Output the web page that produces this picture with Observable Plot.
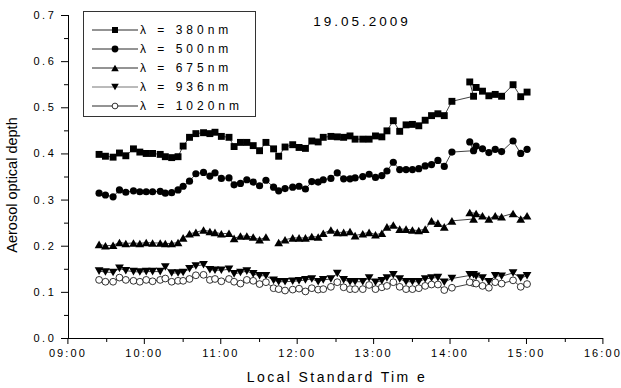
<!DOCTYPE html>
<html>
<head>
<meta charset="utf-8">
<script src="https://cdn.jsdelivr.net/npm/d3@7"></script>
<script src="https://cdn.jsdelivr.net/npm/@observablehq/plot@0.6"></script>
<style>
  body { margin: 0; background: #fff; }
  #wrap { position: relative; width: 621px; height: 388px; font-family: "Liberation Sans", Arial, sans-serif; color: #000; overflow: hidden; }
  #chart svg { display: block; }
  g[aria-label="y-axis tick label"] text { letter-spacing: 2.6px; }
  g[aria-label="x-axis tick label"] text { letter-spacing: 2.1px; }
  .ov { position: absolute; white-space: nowrap; transform: translate(-50%, -50%); line-height: 1; }
  #title { left: 362px; top: 22px; font-size: 13.5px; letter-spacing: 3px; }
  #xlab { left: 337px; top: 377px; font-size: 14px; letter-spacing: 2.4px; }
  #ylab { left: 12px; top: 185px; font-size: 14.5px; transform: translate(-50%, -50%) rotate(-90deg); }
  #legend { position: absolute; left: 83px; top: 11px; }
</style>
</head>
<body>
<div id="wrap">
  <div id="chart"></div>
  <div id="title" class="ov">19.05.2009</div>
  <div id="xlab" class="ov">Local Standard Tim e</div>
  <div id="ylab" class="ov">Aerosol optical depth</div>
  <div id="legend"></div>
</div>
<script>
// ---- data ----
const times = ["09:24","09:29","09:35","09:40","09:45","09:51","09:56","10:01","10:06","10:12","10:16","10:21","10:26","10:30","10:35","10:40","10:46","10:51","10:55","11:00",
  "11:06","11:10","11:15","11:20","11:25","11:30","11:35","11:41","11:45","11:50","11:56","12:01","12:06","12:11","12:16",
  "12:20","12:26","12:31","12:36","12:41","12:45","12:51","12:56","13:01","13:06","13:10","13:15","13:20","13:25","13:30","13:35","13:40","13:45","13:50","13:55","14:01",
  "14:18","14:15","14:20","14:25","14:30","14:35","14:40","14:49","14:55","15:00"];

const aod380 = [0.399,0.395,0.393,0.402,0.396,0.411,0.404,0.401,0.401,0.399,0.394,0.392,0.394,0.417,0.436,0.444,0.446,0.444,0.447,0.438,
  0.436,0.416,0.425,0.425,0.418,0.407,0.425,0.411,0.395,0.415,0.420,0.414,0.412,0.428,0.426,
  0.436,0.438,0.437,0.436,0.439,0.432,0.432,0.432,0.439,0.437,0.450,0.472,0.449,0.463,0.464,0.461,0.473,0.483,0.487,0.483,0.514,
  0.525,0.556,0.544,0.536,0.526,0.529,0.525,0.550,0.524,0.534];

const aod500 = [0.315,0.311,0.307,0.322,0.317,0.320,0.318,0.318,0.318,0.319,0.315,0.316,0.322,0.330,0.341,0.357,0.360,0.352,0.359,0.347,
  0.348,0.333,0.336,0.344,0.339,0.331,0.343,0.328,0.320,0.325,0.328,0.330,0.324,0.340,0.339,
  0.344,0.347,0.359,0.346,0.346,0.348,0.351,0.356,0.349,0.353,0.363,0.382,0.366,0.366,0.366,0.368,0.374,0.377,0.386,0.373,0.404,
  0.407,0.426,0.417,0.411,0.403,0.410,0.405,0.428,0.401,0.410];

const aod675 = [0.204,0.201,0.202,0.208,0.206,0.207,0.206,0.208,0.207,0.207,0.206,0.206,0.208,0.218,0.227,0.230,0.235,0.232,0.230,0.227,
  0.228,0.217,0.222,0.222,0.220,0.214,0.220,null,0.208,0.214,0.218,0.218,0.218,0.221,0.220,
  0.228,0.235,0.230,0.230,0.232,0.223,0.227,0.230,0.225,0.228,0.242,0.246,0.237,0.237,0.235,0.234,0.237,0.255,0.250,0.242,0.255,
  0.259,0.273,0.271,0.266,0.259,0.266,0.264,0.271,0.259,0.266];

const aod936 = [0.146,0.144,0.143,0.152,0.147,0.145,0.144,0.145,0.145,0.145,0.155,0.142,0.142,0.143,0.151,0.157,0.160,0.149,0.148,0.148,
  0.150,0.140,0.143,0.146,0.140,0.136,0.136,0.126,0.123,0.123,0.124,0.125,0.127,0.129,0.123,
  0.127,0.129,0.141,0.127,0.123,0.123,0.123,0.131,0.122,0.125,0.131,0.138,0.129,0.123,0.123,0.123,0.129,0.131,0.132,0.122,0.130,
  0.138,0.138,0.135,0.131,0.123,0.136,0.135,0.142,0.131,0.136];

const aod1020 = [0.127,0.123,0.123,0.132,0.127,0.125,0.123,0.127,0.124,0.127,0.130,0.123,0.125,0.125,0.129,0.137,0.138,0.127,0.129,0.124,
  0.129,0.123,0.119,0.127,0.125,0.118,0.122,0.109,0.107,0.104,0.106,0.108,0.102,0.109,0.106,
  0.107,0.112,0.122,0.111,0.107,0.107,0.107,0.116,0.107,0.111,0.114,0.122,0.112,0.107,0.107,0.109,0.114,0.117,0.117,0.105,0.110,
  0.120,0.122,0.119,0.114,0.110,0.122,0.119,0.126,0.112,0.118];

const seriesNames = ["λ = 380nm","λ = 500nm","λ = 675nm","λ = 936nm","λ = 1020nm"];

const xTickLabels = ["09:00","10:00","11:00","12:00","13:00","14:00","15:00","16:00"];
const xMinorLabels = ["09:30","10:30","11:30","12:30","13:30","14:30","15:30"];
const yTickValues = [0.0,0.1,0.2,0.3,0.4,0.5,0.6,0.7];
const yMinorValues = [0.05,0.15,0.25,0.35,0.45,0.55,0.65];

// ---- helpers ----
const toH = s => { const [h, m] = s.split(":").map(Number); return h + m / 60; };
const xTicks = xTickLabels.map(toH);
const xMinor = xMinorLabels.map(toH);
const xDomain = [xTicks[0], xTicks[xTicks.length - 1]];
const yDomain = [yTickValues[0], yTickValues[yTickValues.length - 1]];

// triangle symbols centred on their bounding box
const triUp = { draw(ctx, size) { const s = Math.sqrt(size) * 1.3, h = s * Math.sqrt(3) / 2;
  ctx.moveTo(0, -h / 2); ctx.lineTo(s / 2, h / 2); ctx.lineTo(-s / 2, h / 2); ctx.closePath(); } };
const triDown = { draw(ctx, size) { const s = Math.sqrt(size) * 1.3, h = s * Math.sqrt(3) / 2;
  ctx.moveTo(0, h / 2); ctx.lineTo(s / 2, -h / 2); ctx.lineTo(-s / 2, -h / 2); ctx.closePath(); } };

const styles = [
  { values: aod380, symbol: "square", d3sym: d3.symbolSquare, r: 3.9, fill: "black", stroke: "none" },
  { values: aod500, symbol: "circle", d3sym: d3.symbolCircle, r: 3.6, fill: "black", stroke: "none" },
  { values: aod675, symbol: triUp, d3sym: triUp, r: 3.8, fill: "black", stroke: "none" },
  { values: aod936, symbol: triDown, d3sym: triDown, r: 3.8, fill: "black", stroke: "none" },
  { values: aod1020, symbol: "circle", d3sym: d3.symbolCircle, r: 3.4, fill: "white", stroke: "black" }
];

const marks = [];
styles.forEach((s) => {
  const data = times.map((t, i) => ({ t: toH(t), v: s.values[i] }));
  marks.push(Plot.line(data, { x: "t", y: "v", stroke: "#111", strokeWidth: 0.8 }));
  marks.push(Plot.dot(data.filter(d => d.v != null), {
    x: "t", y: "v", symbol: s.symbol, r: s.r, fill: s.fill, stroke: s.stroke, strokeWidth: 0.8
  }));
});

const chart = Plot.plot({
  width: 621,
  height: 388,
  marginLeft: 68,
  marginRight: 18,
  marginTop: 15,
  marginBottom: 50,
  style: { fontFamily: '"Liberation Sans", Arial, sans-serif', fontSize: "11px", color: "#000", background: "#fff" },
  x: { type: "linear", domain: xDomain },
  y: { type: "linear", domain: yDomain },
  marks: [
    Plot.axisY({ ticks: yTickValues, anchor: "left", tickSize: 7, tickPadding: 5, tickFormat: d => d.toFixed(1), label: null }),
    Plot.axisY({ ticks: yMinorValues, anchor: "left", tickSize: 4, tickFormat: () => "", label: null }),
    Plot.axisX({ ticks: xTicks, anchor: "bottom", tickSize: 6, tickPadding: 5, dx: -0.6, tickFormat: d => xTickLabels[xTicks.indexOf(d)], label: null }),
    Plot.axisX({ ticks: xMinor, anchor: "bottom", tickSize: 4, tickFormat: () => "", label: null }),
    Plot.ruleX([xDomain[0]], { stroke: "#000" }),
    Plot.ruleY([yDomain[0]], { stroke: "#000" }),
    ...marks
  ]
});
document.getElementById("chart").appendChild(chart);

// ---- legend (inside the frame, top-left) ----
const lw = 173, lh = 106;
const leg = d3.select("#legend").append("svg").attr("width", lw).attr("height", lh);
leg.append("rect").attr("x", 0.5).attr("y", 0.5).attr("width", lw - 1).attr("height", lh - 1)
  .attr("fill", "white").attr("stroke", "#333").attr("stroke-width", 1);
seriesNames.forEach((name, i) => {
  const s = styles[i];
  const g = leg.append("g").attr("transform", `translate(0,${19 + i * 19})`);
  g.append("line").attr("x1", 9).attr("x2", 55).attr("y1", 0).attr("y2", 0)
    .attr("stroke", i === 3 ? "#666" : "#111").attr("stroke-width", 0.9);
  const size = i === 4 ? 26 : (i === 2 || i === 3 ? 34 : 36);
  g.append("path").attr("transform", "translate(32,0)")
    .attr("d", d3.symbol(s.d3sym, size)())
    .attr("fill", s.fill).attr("stroke", s.stroke === "none" ? null : s.stroke).attr("stroke-width", 0.8);
  g.append("text").attr("x", 57).attr("y", 0).attr("dy", "0.36em")
    .attr("font-family", '"Liberation Sans", Arial, sans-serif').attr("font-size", 12)
    .attr("letter-spacing", "4px").text(name);
});
</script>
</body>
</html>
